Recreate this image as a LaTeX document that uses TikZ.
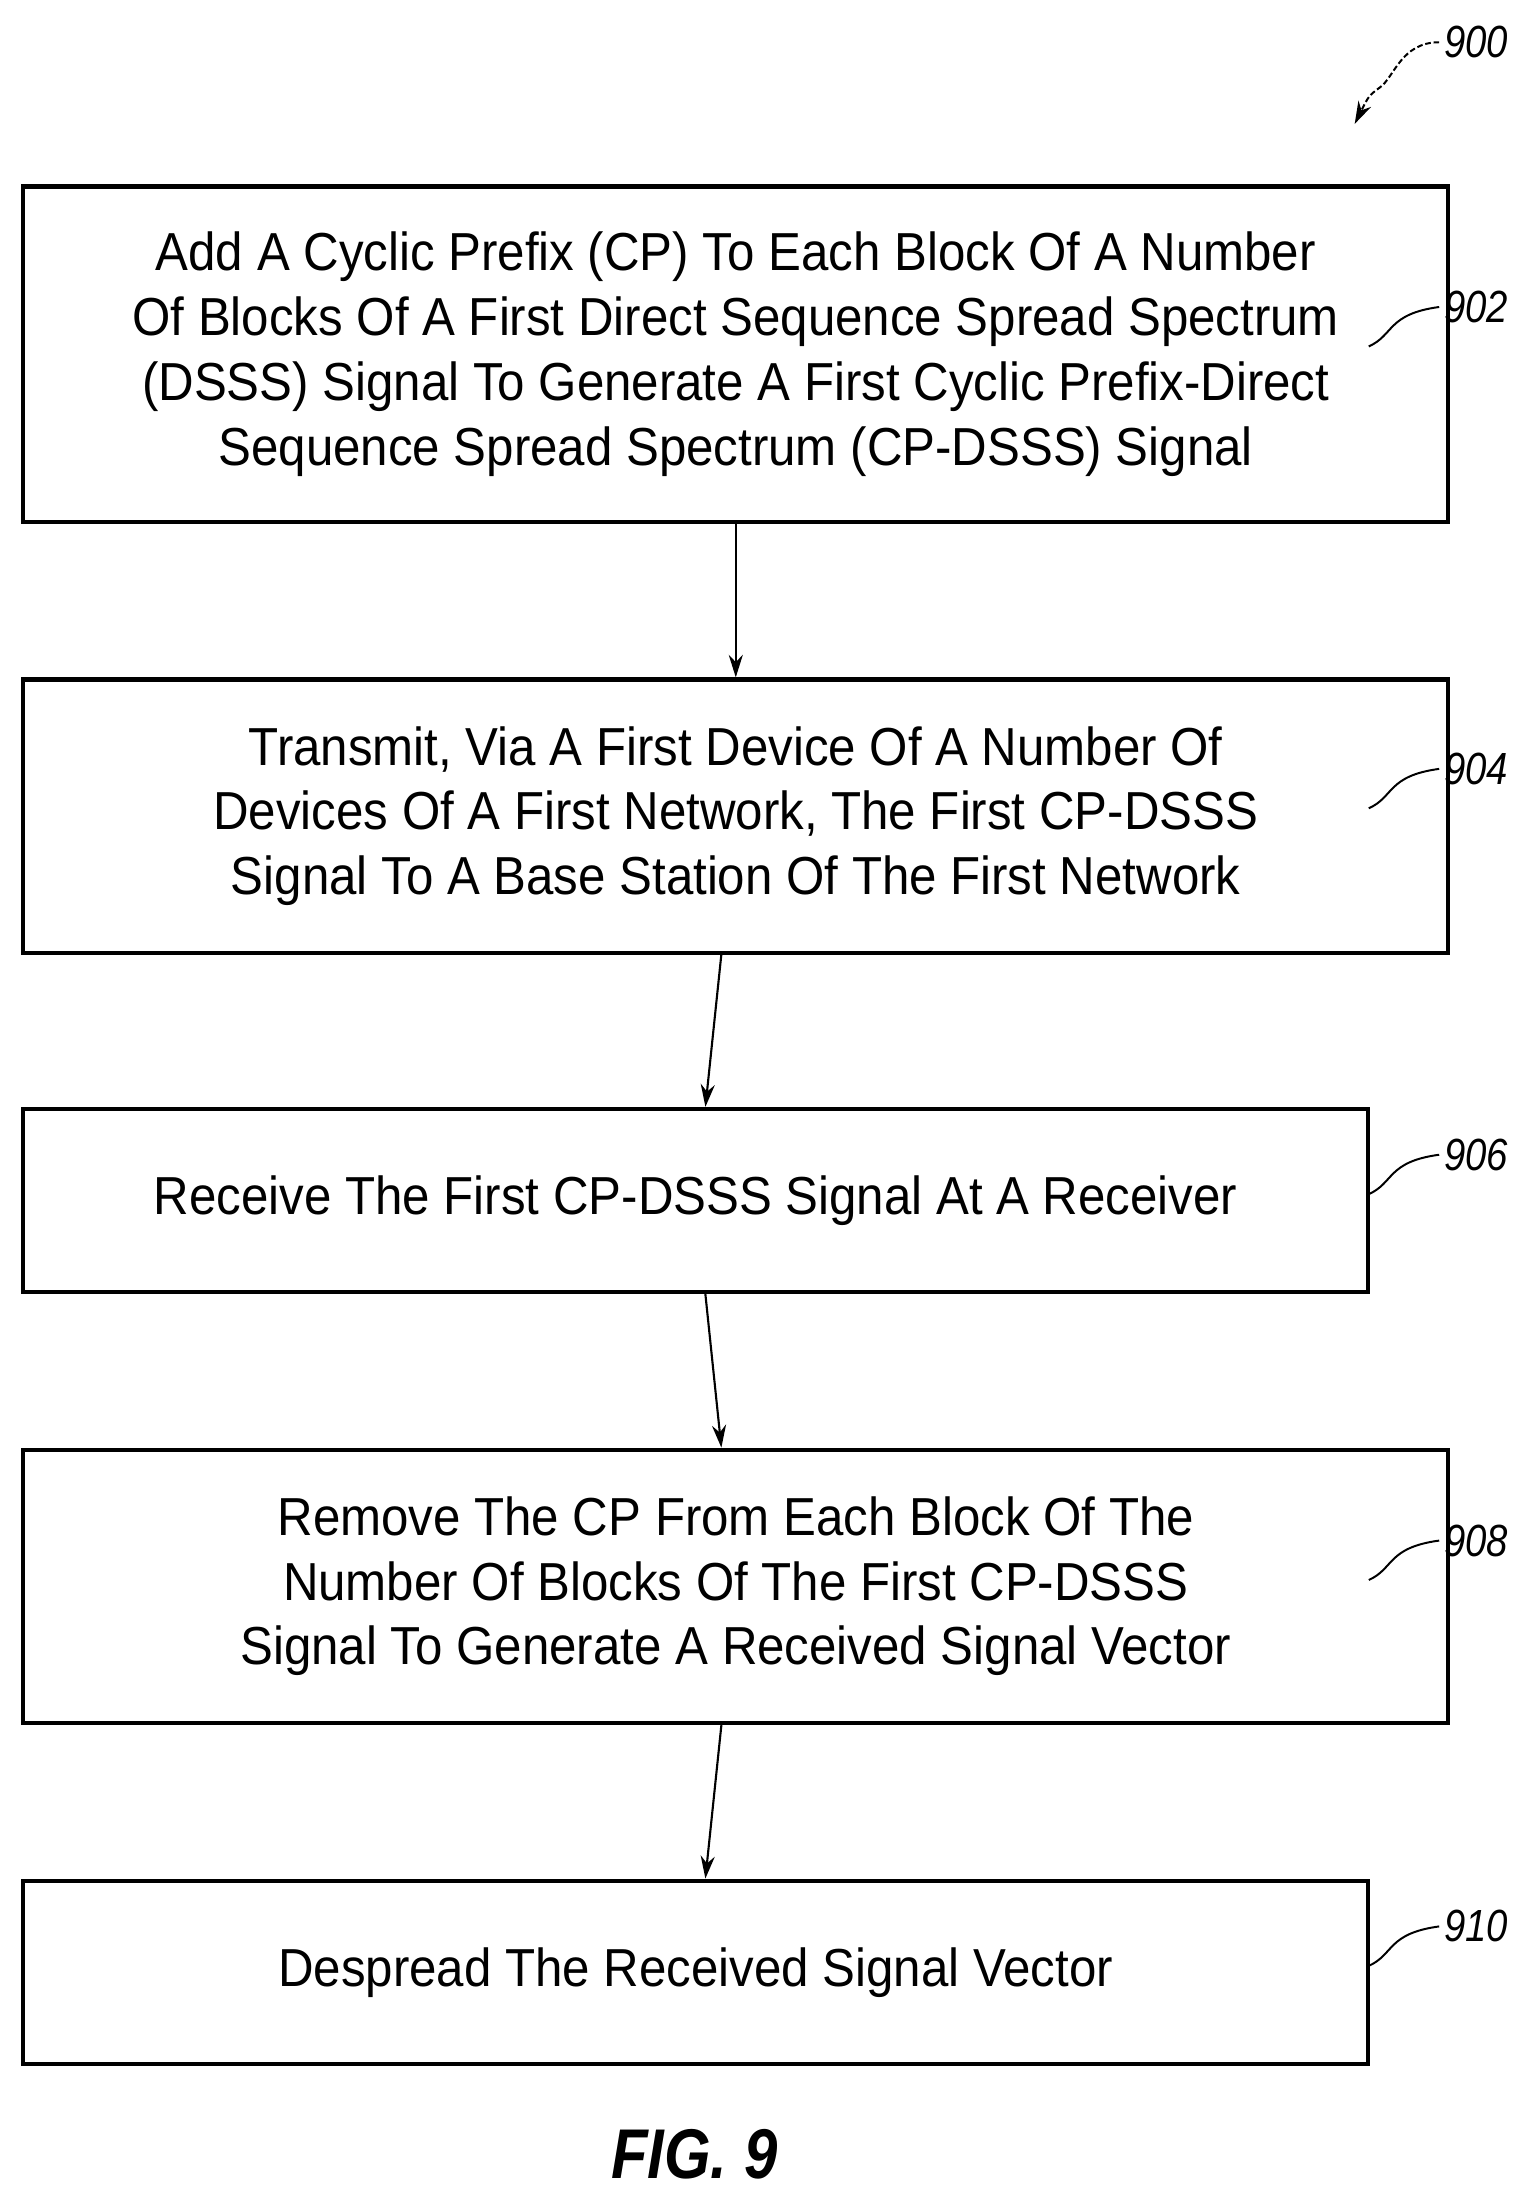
\documentclass[tikz,border=0pt]{standalone}
\usepackage{fontspec}
\setmainfont{Liberation Sans}
\usetikzlibrary{arrows.meta}
\begin{document}
\begin{tikzpicture}[x=1pt,y=-1pt,
box/.style={draw,line width=3pt,minimum width=955pt,anchor=north west,align=center,inner sep=0pt,font=\fontsize{38}{46}\selectfont},
arr/.style={-{Stealth[length=16pt,width=10pt]},line width=1.5pt},
lab/.style={font=\fontsize{32}{32}\selectfont\itshape,anchor=west},
lead/.style={line width=1.4pt}]
\useasboundingbox (0,0) rectangle (1088,1563);
\node[box,minimum height=238pt] (b902) at (15,131) {\scalebox{0.92}[1]{\parbox{1100pt}{\centering Add A Cyclic Prefix (CP) To Each Block Of A Number\\Of Blocks Of A First Direct Sequence Spread Spectrum\\(DSSS) Signal To Generate A First Cyclic Prefix-Direct\\Sequence Spread Spectrum (CP-DSSS) Signal}}};
\node[box,minimum height=194pt] (b904) at (15,481) {\scalebox{0.92}[1]{\parbox{1100pt}{\centering Transmit, Via A First Device Of A Number Of\\Devices Of A First Network, The First CP-DSSS\\Signal To A Base Station Of The First Network}}};
\node[box,minimum height=130pt] (b906) at (15,786) {\scalebox{0.92}[1]{Receive The First CP-DSSS Signal At A Receiver}};
\node[box,minimum height=194pt] (b908) at (15,1028) {\scalebox{0.92}[1]{\parbox{1100pt}{\centering Remove The CP From Each Block Of The\\Number Of Blocks Of The First CP-DSSS\\Signal To Generate A Received Signal Vector}}};
\node[box,minimum height=130pt] (b910) at (15,1334) {\scalebox{0.92}[1]{Despread The Received Signal Vector}};
\draw[arr] (b902) -- (b904);
\draw[arr] (b904) -- (b906);
\draw[arr] (b906) -- (b908);
\draw[arr] (b908) -- (b910);
\foreach \n/\y in {902/218,904/546,906/820,908/1094,910/1368}{
 \node[lab] (l\n) at (1022,\y) {\scalebox{0.85}[1]{\n}};
 \draw[lead] (972,\y+28) .. controls (990,\y+20) and (985,\y+5) .. (l\n.west);
}
\node[lab] (l900) at (1022,30) {\scalebox{0.85}[1]{900}};
\coordinate (t900) at (962,88);
\draw[line width=1.4pt,dash pattern=on 4pt off 2pt,-{Stealth[length=16pt,width=10pt]}] (l900.west) .. controls (995,30) and (990,55) .. (980,62) .. controls (972,68) .. (t900);
\node[font=\fontsize{50}{50}\selectfont\bfseries\itshape] (fig) at (493,1530) {\scalebox{0.85}[1]{FIG. 9}};
\end{tikzpicture}
\end{document}
